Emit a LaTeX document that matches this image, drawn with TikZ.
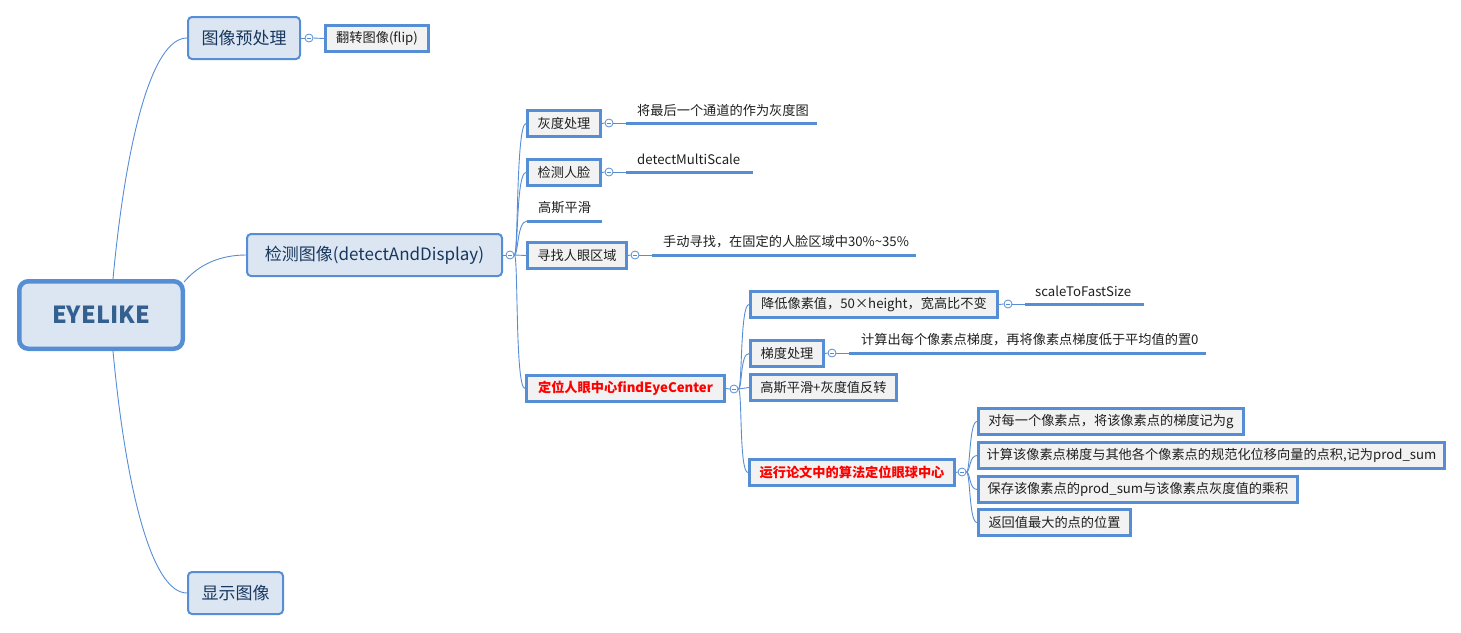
\documentclass[tikz,border=0pt]{standalone}
\usepackage{fontspec}
\newfontfamily\cjk{Noto Sans CJK SC}
\definecolor{bl}{HTML}{558ED5}
\definecolor{lfill}{HTML}{DCE6F2}
\definecolor{gfill}{HTML}{F2F2F2}
\definecolor{navy}{HTML}{17375E}
\definecolor{roottxt}{HTML}{33608F}
\definecolor{leaftxt}{HTML}{1F1F1F}
\begin{document}
\begin{tikzpicture}[x=1pt,y=-1pt,
 conn/.style={draw=bl,line width=0.9pt},
 rootbox/.style={draw=bl,fill=lfill,line width=4.5pt,rounded corners=9pt,font=\cjk\fontsize{23.5}{28}\selectfont\bfseries,text=roottxt,inner sep=0pt,minimum width=163.5pt,minimum height=67.5pt},
 mainbox/.style={draw=bl,fill=lfill,line width=2pt,rounded corners=4pt,font=\cjk\fontsize{17}{20}\selectfont,text=navy,inner sep=0pt,minimum height=42pt},
 leafbox/.style={draw=bl,fill=gfill,line width=3pt,font=\cjk\fontsize{13.2}{16}\selectfont,text=leaftxt,inner sep=0pt,minimum height=26pt},
 redbox/.style={leafbox,text=red,font=\cjk\fontsize{13.2}{16}\selectfont\bfseries},
 ultext/.style={font=\cjk\fontsize{13.2}{16}\selectfont,text=leaftxt,inner sep=0pt,anchor=west},
 uline/.style={draw=bl,line width=3pt},
 knob/.style={circle,draw=bl,fill=white,line width=0.8pt,minimum size=8pt,inner sep=0pt,
   path picture={\draw[bl,line width=0.8pt] ([xshift=2pt]path picture bounding box.west) -- ([xshift=-2pt]path picture bounding box.east);}},
]
\useasboundingbox (0,0) rectangle (1461,632);

% root and main topics
\node[rootbox] (root) at (101,315) {EYELIKE};
\node[mainbox,minimum width=112pt] (pre) at (244,38) {图像预处理};
\node[mainbox,minimum width=255pt] (det) at (374.5,255) {检测图像(detectAndDisplay)};
\node[mainbox,minimum width=95pt] (show) at (235.5,593) {显示图像};

\draw[conn] ([xshift=12pt]root.north) .. controls (125,150) and (150,38) .. (pre.west);
\draw[conn] ([xshift=-1pt,yshift=-3pt]root.north east) .. controls +(15,-18) and +(-25,0) .. (det.west);
\draw[conn] ([xshift=12pt]root.south) .. controls (125,480) and (150,593) .. (show.west);

% preprocessing
\node[knob] (kp) at (309,38) {};
\node[leafbox,minimum width=103pt] (flip) at (377,38.5) {翻转图像(flip)};
\draw[conn] (pre.east) -- (kp.west);
\draw[conn] (kp.east) -- (flip.west);

% detect branch
\node[knob] (kd) at (510,255) {};
\draw[conn] (det.east) -- (kd.west);

\node[leafbox,minimum width=73pt] (gray) at (564,123.5) {灰度处理};
\node[leafbox,minimum width=73pt] (face) at (564,172.5) {检测人脸};
\coordinate (gss) at (527,221);
\coordinate (gse) at (602,221);
\node[ultext] (gs) at (538,208) {高斯平滑};
\node[leafbox,minimum width=99pt] (eye) at (577,255.5) {寻找人眼区域};
\node[redbox,minimum width=198pt] (find) at (625.5,388.5) {定位人眼中心findEyeCenter};

\draw[conn] (kd.east) .. controls +(4,0) and +(-10,0) .. (gray.west);
\draw[conn] (kd.east) .. controls +(4,0) and +(-10,0) .. (face.west);
\draw[conn] (kd.east) .. controls +(4,0) and +(-10,0) .. (gss);
\draw[conn] (kd.east) -- (eye.west);
\draw[conn] (kd.east) .. controls +(4,0) and +(-10,0) .. (find.west);
\draw[uline] (gss) -- (gse);

% gray
\node[knob] (kg) at (609,123) {};
\coordinate (g1s) at (626,123);
\coordinate (g1e) at (817,123);
\node[ultext] (g1) at (637,110) {将最后一个通道的作为灰度图};
\draw[conn] (gray.east) -- (kg.west);
\draw[conn] (kg.east) -- (g1s);
\draw[uline] (g1s) -- (g1e);

% face
\node[knob] (kfa) at (609,172) {};
\coordinate (f1s) at (626,172);
\coordinate (f1e) at (753,172);
\node[ultext] (f1) at (637,159) {detectMultiScale};
\draw[conn] (face.east) -- (kfa.west);
\draw[conn] (kfa.east) -- (f1s);
\draw[uline] (f1s) -- (f1e);

% eye region
\node[knob] (ke) at (635,255) {};
\coordinate (e1s) at (652,255);
\coordinate (e1e) at (916,255);
\node[ultext] (e1) at (663,242) {手动寻找，在固定的人脸区域中30\%\textasciitilde35\%};
\draw[conn] (eye.east) -- (ke.west);
\draw[conn] (ke.east) -- (e1s);
\draw[uline] (e1s) -- (e1e);

% find eye center
\node[knob] (kf) at (734,389) {};
\draw[conn] (find.east) -- (kf.west);
\node[leafbox,minimum width=247pt] (reduce) at (874,304.5) {降低像素值，50×height，宽高比不变};
\node[leafbox,minimum width=73pt] (grad) at (787,353.5) {梯度处理};
\node[leafbox,minimum width=146pt] (gauss2) at (823.5,387.5) {高斯平滑+灰度值反转};
\node[redbox,minimum width=205pt] (run) at (852,472.5) {运行论文中的算法定位眼球中心};
\draw[conn] (kf.east) .. controls +(4,0) and +(-9,0) .. (reduce.west);
\draw[conn] (kf.east) .. controls +(4,0) and +(-9,0) .. (grad.west);
\draw[conn] (kf.east) -- (gauss2.west);
\draw[conn] (kf.east) .. controls +(4,0) and +(-9,0) .. (run.west);

% reduce
\node[knob] (kre) at (1008,304) {};
\coordinate (s1s) at (1025,304);
\coordinate (s1e) at (1144,304);
\node[ultext] (s1) at (1035,291) {scaleToFastSize};
\draw[conn] (reduce.east) -- (kre.west);
\draw[conn] (kre.east) -- (s1s);
\draw[uline] (s1s) -- (s1e);

% gradient
\node[knob] (kgr) at (832,353) {};
\coordinate (gr1s) at (849,353);
\coordinate (gr1e) at (1206,353);
\node[ultext] (gr1) at (861,340) {计算出每个像素点梯度，再将像素点梯度低于平均值的置0};
\draw[conn] (grad.east) -- (kgr.west);
\draw[conn] (kgr.east) -- (gr1s);
\draw[uline] (gr1s) -- (gr1e);

% run algorithm
\node[knob] (kr) at (962,472) {};
\draw[conn] (run.east) -- (kr.west);
\node[leafbox,minimum width=265pt] (r1) at (1111,421.5) {对每一个像素点，将该像素点的梯度记为g};
\node[leafbox,minimum width=466pt] (r2) at (1211.5,455.5) {计算该像素点梯度与其他各个像素点的规范化位移向量的点积,记为prod\_sum};
\node[leafbox,minimum width=319pt] (r3) at (1138,489.5) {保存该像素点的prod\_sum与该像素点灰度值的乘积};
\node[leafbox,minimum width=152pt] (r4) at (1054.5,522.5) {返回值最大的点的位置};
\draw[conn] (kr.east) .. controls +(4,0) and +(-8,0) .. (r1.west);
\draw[conn] (kr.east) .. controls +(4,0) and +(-8,0) .. (r2.west);
\draw[conn] (kr.east) .. controls +(4,0) and +(-8,0) .. (r3.west);
\draw[conn] (kr.east) .. controls +(4,0) and +(-8,0) .. (r4.west);
\end{tikzpicture}
\end{document}
